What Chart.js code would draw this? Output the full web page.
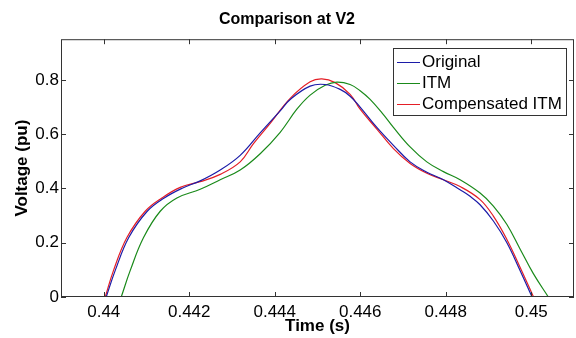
<!DOCTYPE html>
<html>
<head>
<meta charset="utf-8">
<script src="https://cdn.jsdelivr.net/npm/chart.js@4.4.1/dist/chart.umd.min.js"></script>
<style>
  html, body { margin: 0; padding: 0; background: #fff; }
  #wrap { width: 576px; height: 338px; }
</style>
</head>
<body>
<div id="wrap"><canvas id="c" width="576" height="338"></canvas></div>
<script>
// ---- data ----
const titleText = "Comparison at V2";
const xTitle = "Time (s)";
const yTitle = "Voltage (pu)";
const seriesNames = ["Original", "ITM", "Compensated ITM"];

const xTicks = [0.44, 0.442, 0.444, 0.446, 0.448, 0.45];
const xTickLabels = ["0.44", "0.442", "0.444", "0.446", "0.448", "0.45"];
const yTicks = [0, 0.2, 0.4, 0.6, 0.8];
const yTickLabels = ["0", "0.2", "0.4", "0.6", "0.8"];

const originalT = [0.440058, 0.440269, 0.440585, 0.441017, 0.441415, 0.441835, 0.442256, 0.442724, 0.443191, 0.443659, 0.444127, 0.444361, 0.444828, 0.445179, 0.445530, 0.445763, 0.445997, 0.446388, 0.446776, 0.447166, 0.447557, 0.447945, 0.448335, 0.448569, 0.448803, 0.449114, 0.449427, 0.449738, 0.450019];
const originalV = [0, 0.098, 0.219, 0.316, 0.365, 0.401, 0.428, 0.468, 0.522, 0.605, 0.686, 0.728, 0.777, 0.783, 0.765, 0.74, 0.70, 0.625, 0.559, 0.498, 0.46, 0.432, 0.395, 0.371, 0.34, 0.28, 0.201, 0.098, 0];

const itmT = [0.440409, 0.440620, 0.440931, 0.441321, 0.441711, 0.442256, 0.442724, 0.443191, 0.443659, 0.444127, 0.444517, 0.444828, 0.445179, 0.445452, 0.445763, 0.445997, 0.446231, 0.446542, 0.446776, 0.447166, 0.447557, 0.447945, 0.448335, 0.448803, 0.449114, 0.449427, 0.449738, 0.450049, 0.450400];
const itmV = [0, 0.098, 0.219, 0.316, 0.365, 0.397, 0.432, 0.468, 0.528, 0.607, 0.692, 0.744, 0.78, 0.792, 0.783, 0.76, 0.728, 0.672, 0.625, 0.553, 0.498, 0.462, 0.432, 0.383, 0.335, 0.268, 0.177, 0.086, 0];

const compT = [0.440035, 0.440229, 0.440542, 0.440970, 0.441361, 0.441789, 0.442256, 0.442724, 0.443191, 0.443502, 0.443893, 0.444361, 0.444828, 0.445102, 0.445413, 0.445763, 0.445997, 0.446388, 0.446776, 0.447166, 0.447557, 0.447945, 0.448335, 0.448803, 0.449114, 0.449427, 0.449738, 0.450054];
const compV = [0, 0.098, 0.219, 0.316, 0.365, 0.404, 0.425, 0.452, 0.498, 0.565, 0.64, 0.732, 0.793, 0.804, 0.79, 0.747, 0.692, 0.619, 0.547, 0.492, 0.456, 0.432, 0.407, 0.359, 0.298, 0.213, 0.11, 0];

const xMin = 0.439, xMax = 0.451;
const yMin = 0, yMax = 0.95;

// ---- styles ----
const FONT = "'Liberation Sans', Arial, Helvetica, sans-serif";
const colors = ["#1c1ca8", "#1a8a1a", "#e41e26"];
const axisColor = "#333333";

const toPts = (ts, vs) => ts.map((t, i) => ({ x: t, y: vs[i] }));

const frameTicks = {
  id: 'frameTicks',
  afterDatasetsDraw(chart) {
    const { ctx, chartArea: { left, right, top, bottom }, scales: { x, y } } = chart;
    ctx.save();
    ctx.strokeStyle = axisColor;
    ctx.lineWidth = 1;
    ctx.strokeRect(left + 0.5, top + 0.5, right - left - 1, bottom - top - 1);
    const L = 5;
    ctx.beginPath();
    x.ticks.forEach(tk => {
      const px = Math.round(x.getPixelForValue(tk.value)) + 0.5;
      ctx.moveTo(px, bottom); ctx.lineTo(px, bottom - L);
      ctx.moveTo(px, top); ctx.lineTo(px, top + L);
    });
    y.ticks.forEach(tk => {
      const py = Math.round(y.getPixelForValue(tk.value)) + 0.5;
      ctx.moveTo(left, py); ctx.lineTo(left + L, py);
      ctx.moveTo(right, py); ctx.lineTo(right - L, py);
    });
    ctx.stroke();

    // legend box
    const bx1 = right - 181, bx2 = right - 8, by1 = top + 9, by2 = top + 76;
    ctx.fillStyle = '#fff';
    ctx.fillRect(bx1, by1, bx2 - bx1, by2 - by1);
    ctx.strokeRect(Math.round(bx1) + 0.5, Math.round(by1) + 0.5, Math.round(bx2 - bx1), Math.round(by2 - by1));
    ctx.font = "17px " + FONT;
    ctx.textBaseline = 'middle';
    ctx.textAlign = 'left';
    chart.data.datasets.forEach((ds, i) => {
      const cy = by1 + 13.5 + i * 21;
      ctx.strokeStyle = ds.borderColor;
      ctx.beginPath();
      ctx.moveTo(bx1 + 4, Math.round(cy) + 0.5);
      ctx.lineTo(bx1 + 27, Math.round(cy) + 0.5);
      ctx.stroke();
      ctx.fillStyle = '#000';
      ctx.fillText(ds.label, bx1 + 29, cy + 1);
    });
    ctx.restore();
  }
};

Chart.defaults.color = '#000';
Chart.defaults.font.family = FONT;

new Chart(document.getElementById('c'), {
  type: 'line',
  data: {
    datasets: [
      { label: seriesNames[0], data: toPts(originalT, originalV), borderColor: colors[0] },
      { label: seriesNames[1], data: toPts(itmT, itmV), borderColor: colors[1] },
      { label: seriesNames[2], data: toPts(compT, compV), borderColor: colors[2] }
    ].map(d => Object.assign(d, { borderWidth: 1.2, pointRadius: 0, fill: false, tension: 0.4 }))
  },
  options: {
    responsive: false,
    animation: false,
    devicePixelRatio: 1,
    layout: { padding: { left: 0, right: 2, top: 0, bottom: 0 } },
    plugins: {
      legend: { display: false },
      tooltip: { enabled: false },
      title: {
        display: true, text: titleText, color: '#000',
        font: { size: 16, weight: 'bold', family: FONT },
        padding: { top: 10, bottom: 10 }
      }
    },
    scales: {
      x: {
        type: 'linear', min: xMin, max: xMax,
        grid: { display: false, drawTicks: false },
        border: { display: false },
        afterBuildTicks: s => { s.ticks = xTicks.map(v => ({ value: v })); },
        afterFit: s => { s.height = 41; },
        ticks: {
          autoSkip: false, maxRotation: 0, padding: 5, color: '#000',
          font: { size: 17, family: FONT },
          callback: (v) => { const i = xTicks.findIndex(t => Math.abs(t - v) < 1e-9); return i >= 0 ? xTickLabels[i] : ''; }
        },
        title: { display: true, text: xTitle, color: '#000', font: { size: 17, weight: 'bold', family: FONT }, padding: { top: 0, bottom: 1 } }
      },
      y: {
        type: 'linear', min: yMin, max: yMax,
        grid: { display: false, drawTicks: false },
        border: { display: false },
        afterBuildTicks: s => { s.ticks = yTicks.map(v => ({ value: v })); },
        afterFit: s => { s.width = 61; },
        ticks: {
          autoSkip: false, padding: 2, color: '#000',
          font: { size: 17, family: FONT },
          callback: (v) => { const i = yTicks.findIndex(t => Math.abs(t - v) < 1e-9); return i >= 0 ? yTickLabels[i] : ''; }
        },
        title: { display: true, text: yTitle, color: '#000', font: { size: 17, weight: 'bold', family: FONT }, padding: { top: 12, bottom: 0 } }
      }
    }
  },
  plugins: [frameTicks]
});
</script>
</body>
</html>
